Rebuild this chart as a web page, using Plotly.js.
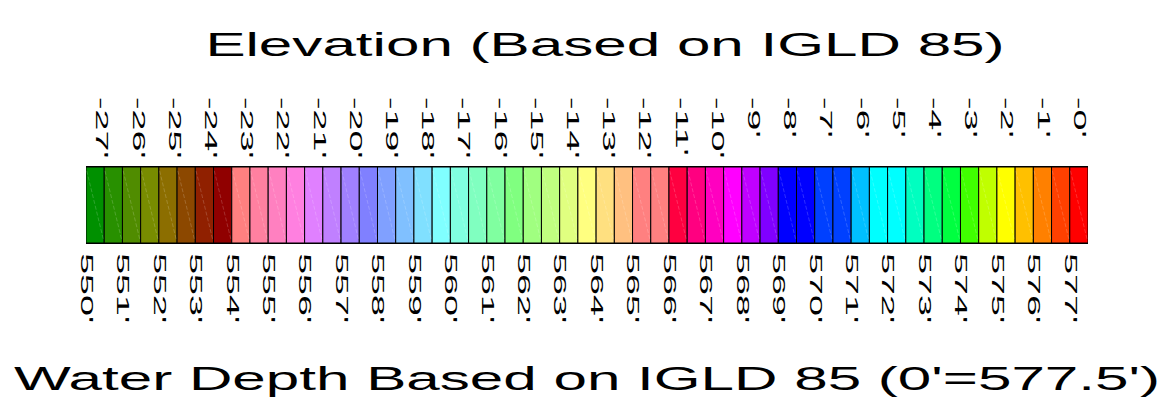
<!DOCTYPE html>
<html>
<head>
<meta charset="utf-8">
<script src="https://cdn.plot.ly/plotly-3.0.1.min.js"></script>
<style>
  html, body { margin: 0; padding: 0; background: #ffffff; }
  #chart { width: 1163px; height: 400px; }
</style>
</head>
<body>
<div id="chart"></div>
<script>
// Lower edge (ft, IGLD 85) of each half-foot colour cell
const cellLow = [550, 550.5, 551, 551.5, 552, 552.5, 553, 553.5, 554, 554.5,
  555, 555.5, 556, 556.5, 557, 557.5, 558, 558.5, 559, 559.5,
  560, 560.5, 561, 561.5, 562, 562.5, 563, 563.5, 564, 564.5,
  565, 565.5, 566, 566.5, 567, 567.5, 568, 568.5, 569, 569.5,
  570, 570.5, 571, 571.5, 572, 572.5, 573, 573.5, 574, 574.5,
  575, 575.5, 576, 576.5, 577];
const cellWidth = 0.5;
const cellColors = ["#009000", "#289000", "#508c00", "#788c00", "#8c6e00", "#8c4800", "#902000", "#900000",
  "#ff8080", "#ff80a0", "#ff80c0", "#ff80e0", "#e080ff", "#c080ff", "#a080ff", "#8080ff",
  "#80a0ff", "#80c0ff", "#80e0ff", "#80ffff", "#80ffe0", "#80ffc0", "#80ffa0", "#80ff80",
  "#a0ff80", "#c0ff80", "#e0ff80", "#ffff80", "#ffe080", "#ffc080", "#ff8080", "#ff8080",
  "#ff0040", "#ff0080", "#ff00c0", "#ff00ff", "#c000ff", "#8000ff", "#0000ff", "#0000ff",
  "#0040ff", "#0040ff", "#00c0ff", "#00ffff", "#00ffff", "#00ffc0", "#00ff80", "#00ff40",
  "#40ff00", "#c0ff00", "#ffff00", "#ffc000", "#ff8000", "#ff4000", "#ff0000"];

// Bottom axis: elevation in feet
const elevTickVals = [550, 551, 552, 553, 554, 555, 556, 557, 558, 559, 560, 561, 562, 563,
  564, 565, 566, 567, 568, 569, 570, 571, 572, 573, 574, 575, 576, 577];
const elevTickText = ["550'", "551'", "552'", "553'", "554'", "555'", "556'", "557'", "558'", "559'",
  "560'", "561'", "562'", "563'", "564'", "565'", "566'", "567'", "568'", "569'",
  "570'", "571'", "572'", "573'", "574'", "575'", "576'", "577'"];

// Top axis: water depth in feet (0' = 577.5')
const depthTickVals = [-27, -26, -25, -24, -23, -22, -21, -20, -19, -18, -17, -16, -15, -14,
  -13, -12, -11, -10, -9, -8, -7, -6, -5, -4, -3, -2, -1, 0];
const depthTickText = ["-27'", "-26'", "-25'", "-24'", "-23'", "-22'", "-21'", "-20'", "-19'", "-18'",
  "-17'", "-16'", "-15'", "-14'", "-13'", "-12'", "-11'", "-10'", "-9'", "-8'",
  "-7'", "-6'", "-5'", "-4'", "-3'", "-2'", "-1'", "-0'"];
const depthRange = [-27.43, 0.25];

const mainTitle = "Elevation (Based on IGLD 85)";
const bottomTitle = "Water Depth Based on IGLD 85 (0'=577.5')";

const FONT = "'Liberation Sans', Arial, Helvetica, sans-serif";
const STRETCH_TITLE = 1.77;
const STRETCH_TICK = 2.35;
const TOP_LABEL_TOP = 97;

const xMin = cellLow[0];
const xMax = cellLow[cellLow.length - 1] + cellWidth;

// faint diagonal seam in each cell (top-left to bottom-right)
const seamX = [], seamY = [];
cellLow.forEach(function (lo) {
  seamX.push(lo + 0.02, lo + cellWidth - 0.02, null);
  seamY.push(0.95, 0.04, null);
});

const traces = [
  {
    type: 'bar',
    x: cellLow,
    y: cellLow.map(function () { return 1; }),
    width: cellLow.map(function () { return cellWidth; }),
    offset: 0,
    base: 0,
    marker: { color: cellColors, line: { color: '#000000', width: 1 } },
    hoverinfo: 'skip',
    showlegend: false
  },
  {
    type: 'scatter',
    mode: 'lines',
    x: seamX,
    y: seamY,
    line: { color: 'rgba(255,255,255,0.18)', width: 1, dash: '4px,2px' },
    hoverinfo: 'skip',
    showlegend: false
  },
  {
    type: 'scatter',
    mode: 'markers',
    xaxis: 'x2',
    yaxis: 'y',
    x: depthTickVals,
    y: depthTickVals.map(function () { return 0.5; }),
    marker: { opacity: 0 },
    hoverinfo: 'skip',
    showlegend: false
  }
];

const layout = {
  width: 1163,
  height: 400,
  paper_bgcolor: '#ffffff',
  plot_bgcolor: '#ffffff',
  margin: { l: 86, r: 75, t: 167, b: 157 },
  bargap: 0,
  hovermode: false,
  showlegend: false,
  font: { family: FONT, color: '#000000' },
  title: {
    text: mainTitle,
    font: { family: FONT, size: 34, color: '#000000' },
    x: 605 / 1163,
    xref: 'container',
    xanchor: 'center',
    y: 1 - 44 / 400,
    yref: 'container',
    yanchor: 'middle'
  },
  xaxis: {
    range: [xMin, xMax],
    tickmode: 'array',
    tickvals: elevTickVals,
    ticktext: elevTickText,
    tickangle: 90,
    tickfont: { family: FONT, size: 16, color: '#000000' },
    ticks: '',
    ticklabelstandoff: 6,
    showgrid: false,
    zeroline: false,
    showline: true,
    mirror: true,
    linecolor: '#000000',
    linewidth: 1,
    fixedrange: true,
    automargin: false,
    title: {
      text: bottomTitle,
      font: { family: FONT, size: 34, color: '#000000' },
      standoff: 84
    }
  },
  xaxis2: {
    overlaying: 'x',
    side: 'top',
    anchor: 'y',
    range: depthRange,
    tickmode: 'array',
    tickvals: depthTickVals,
    ticktext: depthTickText,
    tickangle: 90,
    tickfont: { family: FONT, size: 16, color: '#000000' },
    ticks: '',
    ticklabelstandoff: 9,
    showgrid: false,
    zeroline: false,
    showline: false,
    fixedrange: true,
    automargin: false
  },
  yaxis: {
    range: [0, 1],
    showticklabels: false,
    ticks: '',
    showgrid: false,
    zeroline: false,
    showline: false,
    fixedrange: true,
    automargin: false
  }
};

function stretchText(el, s) {
  const x = parseFloat(el.getAttribute('x')) || 0;
  const y = parseFloat(el.getAttribute('y')) || 0;
  const t = el.getAttribute('transform') || '';
  el.setAttribute('transform', t + ' translate(' + x + ',' + y + ') scale(' + s + ',1) translate(' + (-x) + ',' + (-y) + ')');
}

Plotly.newPlot('chart', traces, layout, { displayModeBar: false, staticPlot: true }).then(function (gd) {
  gd.querySelectorAll('.xtick text, .x2tick text').forEach(function (el) { stretchText(el, STRETCH_TICK); });
  gd.querySelectorAll('.gtitle, .g-xtitle text').forEach(function (el) { stretchText(el, STRETCH_TITLE); });
  // top labels hang from a common top line, like the reference
  const gdTop = gd.getBoundingClientRect().top;
  gd.querySelectorAll('.x2tick text').forEach(function (el) {
    const top = el.getBoundingClientRect().top - gdTop;
    const t = el.getAttribute('transform') || '';
    el.setAttribute('transform', 'translate(0,' + (TOP_LABEL_TOP - top) + ') ' + t);
  });
});
</script>
</body>
</html>
